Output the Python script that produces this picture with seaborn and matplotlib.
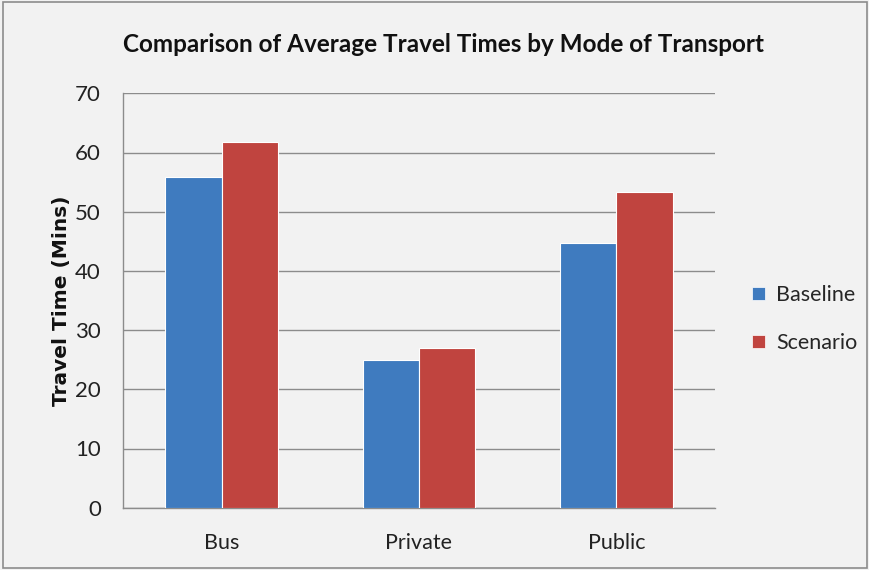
import matplotlib
matplotlib.use("Agg")
import matplotlib.pyplot as plt
import seaborn as sns
import pandas as pd
from matplotlib.patches import Rectangle, Patch

categories = ["Bus", "Private", "Public"]
baseline = [55.8, 24.9, 44.7]
scenario = [61.8, 27.0, 53.3]
series_names = ["Baseline", "Scenario"]
y_ticks = [0, 10, 20, 30, 40, 50, 60, 70]

df = pd.DataFrame({
    "Mode": categories * 2,
    "Series": [series_names[0]] * 3 + [series_names[1]] * 3,
    "Time": baseline + scenario,
})

sns.set_style("white")
plt.rcParams["font.family"] = ["Lato", "DejaVu Sans"]

bg = "#f2f2f2"
colors = ["#3f7bbf", "#c0443f"]

fig = plt.figure(figsize=(8.7, 5.7), dpi=100, facecolor=bg)
ax = fig.add_axes([123 / 870, 1 - 507.7 / 570, (715 - 123) / 870, (507.7 - 93.3) / 570])
ax.set_facecolor(bg)

sns.barplot(data=df, x="Mode", y="Time", hue="Series", palette=colors,
            saturation=1, width=0.57, ax=ax, edgecolor="white", linewidth=0.8,
            legend=False, zorder=3)

ax.set_ylim(0, 70)
ax.set_xlim(-0.5, 2.5)
ax.set_yticks(y_ticks)
ax.set_yticklabels([str(t) for t in y_ticks], fontsize=16, color="#222222")
ax.yaxis.grid(True, color="#8c8c8c", linewidth=1.0, zorder=0)
ax.set_axisbelow(True)

ax.set_xticks(range(3))
ax.set_xticklabels(categories, fontsize=15.5, color="#222222")
ax.set_xticks([-0.5, 0.5, 1.5, 2.5], minor=True)
ax.tick_params(axis="x", which="major", length=0, pad=18)
ax.tick_params(axis="x", which="minor", length=10, width=1, color="#8c8c8c", direction="out")
ax.tick_params(axis="y", which="major", length=8, width=1, color="#8c8c8c", direction="out", pad=8)

for s in ["top", "right"]:
    ax.spines[s].set_visible(False)
for s in ["left", "bottom"]:
    ax.spines[s].set_color("#8c8c8c")
    ax.spines[s].set_linewidth(1.0)

ax.set_xlabel("")
ax.set_ylabel("Travel Time (Mins)", fontsize=14.5, fontweight="bold", color="#111111",
              family=["DejaVu Sans"])
ax.yaxis.set_label_coords(-0.088, 0.5)

fig.text(444 / 870, 1 - 45 / 570, "Comparison of Average Travel Times by Mode of Transport",
         ha="center", va="center", fontsize=17.5, fontweight="bold", color="#111111")

handles = [Patch(facecolor=c, edgecolor="white", linewidth=0.5) for c in colors]
fig.legend(handles, series_names, loc="center left",
           bbox_to_anchor=(733 / 870, 1 - 319 / 570), frameon=False,
           fontsize=15.5, handlelength=0.6, handleheight=0.6, handletextpad=0.5,
           labelspacing=1.3)

fig.patches.append(Rectangle((0.004, 0.004), 0.992, 0.992, transform=fig.transFigure,
                             fill=False, edgecolor="#8c8c8c", linewidth=1.2))

fig.savefig("out.png", dpi=100, facecolor=bg)
